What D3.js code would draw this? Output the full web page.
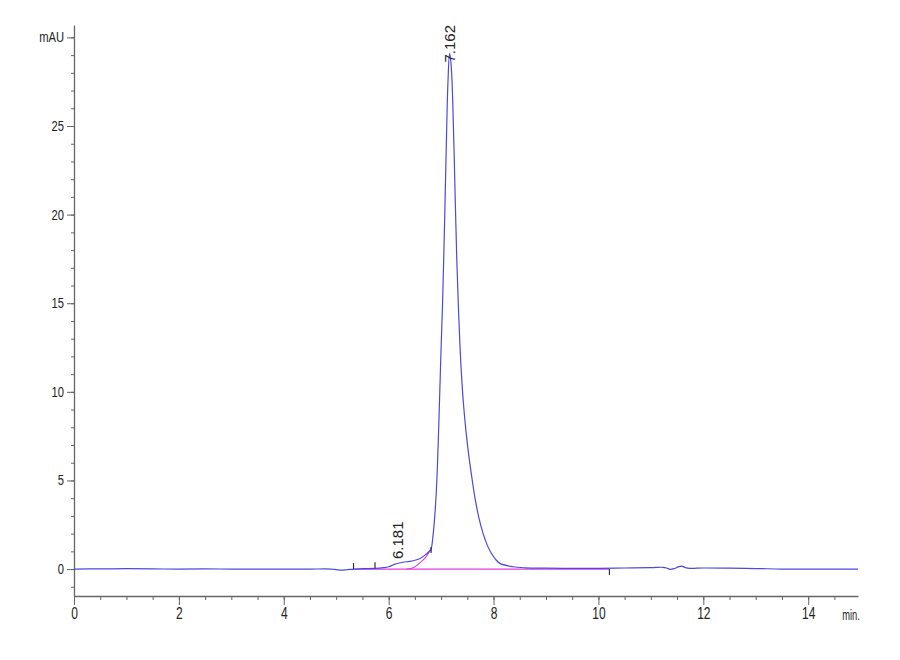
<!DOCTYPE html>
<html>
<head>
<meta charset="utf-8">
<script src="https://cdn.jsdelivr.net/npm/d3@7"></script>
<style>
  body { margin: 0; background: #fff; }
  .axis text { font-family: "Liberation Sans", Arial, sans-serif; fill: #222;
      transform-box: fill-box; transform-origin: center; }
  .axis path, .axis line { stroke: #666; }
  .x-axis text { font-size: 16px; transform: scaleX(0.75); }
  .y-axis text { font-size: 14px; transform: scaleX(0.8); }
  .x-axis text.unit { font-size: 15px; transform: scaleX(0.62); }
  .peak-label { font-family: "Liberation Sans", Arial, sans-serif; font-size: 15px; fill: #222; }
</style>
</head>
<body>
<svg id="chart" width="900" height="660"></svg>
<script>
// detector trace, time in min / signal in mAU
var traceTime = [0, 0.5, 1.0, 1.5, 2.0, 2.5, 3.0, 3.5, 4.0, 4.5, 4.9, 5.0, 5.1, 5.2, 5.33, 5.5, 5.74,
    5.9, 6.0, 6.1, 6.2, 6.3, 6.4, 6.5, 6.6, 6.7, 6.78, 6.81, 6.85, 6.9, 6.93, 6.96, 6.99, 7.03,
    7.07, 7.1, 7.13, 7.162, 7.19, 7.22, 7.27, 7.3, 7.33, 7.36, 7.39, 7.43, 7.474, 7.52, 7.58, 7.65,
    7.72, 7.8, 7.88, 7.96, 8.04, 8.12, 8.37, 8.6, 9.0, 9.5, 10.0, 10.5, 11.0, 11.23, 11.3, 11.37,
    11.45, 11.52, 11.59, 11.66, 11.75, 12.0, 12.5, 13.0, 13.5, 14.0, 14.5, 14.95];
var traceSignal = [0, 0.01, 0.02, 0.01, 0, 0.01, 0, 0, 0, 0, 0, -0.03, -0.06, -0.04, 0, 0.02, 0.04,
    0.08, 0.13, 0.25, 0.34, 0.4, 0.43, 0.5, 0.6, 0.8, 1.02, 1.15, 2.0, 3.9, 5.8, 8.5, 11.5, 15.2,
    20.0, 24.0, 27.4, 29.1, 28.5, 26.6, 20.8, 17.4, 14.8, 12.6, 10.9, 9.2, 7.8, 6.6, 5.3, 3.95,
    2.9, 2.01, 1.35, 0.88, 0.55, 0.32, 0.13, 0.07, 0.05, 0.04, 0.04, 0.06, 0.08, 0.1, 0.06, -0.02,
    0.03, 0.12, 0.17, 0.08, 0.04, 0.06, 0.05, 0.03, 0, 0, 0, 0];

// integration baseline and skim under the front shoulder
var baseTime = [5.33, 10.21];
var baseSignal = [0, 0];
var skimTime = [6.34, 6.47, 6.6, 6.7, 6.81];
var skimSignal = [0, 0.07, 0.36, 0.65, 1.15];

// integration event marks (dir 1 = up, -1 = down)
var eventTime = [5.33, 5.74, 6.81, 10.21];
var eventSignal = [0, 0.04, 0.9, 0];
var eventDir = [1, 1, 1, -1];

// peak labels
var peakTime = [6.181, 7.162];
var peakLabel = ["6.181", "7.162"];

var xTicks = [0, 2, 4, 6, 8, 10, 12, 14];
var yTicks = [0, 5, 10, 15, 20, 25];
var yUnitTick = 30;

var svg = d3.select("#chart");
var x = d3.scaleLinear().domain([0, 14.95]).range([74, 858]);
var y = d3.scaleLinear().domain([-1.52, 30.7]).range([596, 25]);

// x axis: minor ticks every 0.5 min, then majors
svg.append("g").attr("class", "axis")
    .attr("transform", "translate(0,596)")
    .call(d3.axisBottom(x).tickValues(d3.range(0, 14.96, 0.5)).tickSize(4).tickFormat(""))
    .call(function (g) { g.select(".domain").remove(); });

var gx = svg.append("g").attr("class", "axis x-axis")
    .attr("transform", "translate(0,596)")
    .call(d3.axisBottom(x).tickValues(xTicks).tickSize(9).tickPadding(3).tickSizeOuter(0));
gx.select(".domain").attr("stroke-width", 1.3);
gx.append("text")
    .attr("class", "unit")
    .attr("x", 851).attr("y", 13).attr("dy", "0.71em")
    .attr("text-anchor", "middle")
    .text("min.");

// y axis: minor ticks every 1 mAU, then majors
svg.append("g").attr("class", "axis")
    .attr("transform", "translate(74,0)")
    .call(d3.axisLeft(y).tickValues(d3.range(-1, 31, 1)).tickSize(3).tickFormat(""))
    .call(function (g) { g.select(".domain").remove(); });

var gy = svg.append("g").attr("class", "axis y-axis")
    .attr("transform", "translate(74,0)")
    .call(d3.axisLeft(y).tickValues(yTicks.concat([yUnitTick])).tickSize(7).tickPadding(3).tickSizeOuter(0)
        .tickFormat(function (d) { return d === yUnitTick ? "mAU" : d; }));
gy.select(".domain").attr("stroke-width", 1.3);
// keep right edges against the ticks after the horizontal squeeze
gy.selectAll(".tick text").style("transform-origin", "right center");

// lines
var line = d3.line()
    .x(function (d) { return x(d[0]); })
    .y(function (d) { return y(d[1]); })
    .curve(d3.curveCatmullRom.alpha(0.5));

svg.append("path")
    .datum(d3.zip(baseTime, baseSignal))
    .attr("fill", "none").attr("stroke", "#e23ce2").attr("stroke-width", 1.3)
    .attr("d", line);

svg.append("path")
    .datum(d3.zip(skimTime, skimSignal))
    .attr("fill", "none").attr("stroke", "#e23ce2").attr("stroke-width", 1.1)
    .attr("d", line);

svg.append("path")
    .datum(d3.zip(traceTime, traceSignal))
    .attr("fill", "none").attr("stroke", "#4a4ade").attr("stroke-width", 1.2)
    .attr("d", line);

// event marks
svg.selectAll(".event")
    .data(d3.zip(eventTime, eventSignal, eventDir))
    .enter().append("line")
    .attr("class", "event")
    .attr("x1", function (d) { return x(d[0]); })
    .attr("x2", function (d) { return x(d[0]); })
    .attr("y1", function (d) { return y(d[1]); })
    .attr("y2", function (d) { return y(d[1]) - d[2] * 6; })
    .attr("stroke", "#333").attr("stroke-width", 1.2);

// peak labels, rotated; pushed down when they would leave the plot top
var bisect = d3.bisector(function (d) { return d; }).left;
peakTime.forEach(function (t, i) {
    var k = bisect(traceTime, t);
    var apex = traceSignal[Math.min(k, traceSignal.length - 1)];
    var t0 = svg.append("text")
        .attr("class", "peak-label")
        .attr("dy", "0.35em")
        .text(peakLabel[i]);
    var len = t0.node().getComputedTextLength();
    var yStart = y(apex) - 4;
    if (yStart - len < y.range()[1]) yStart = y.range()[1] + len;
    t0.attr("transform", "translate(" + x(t) + "," + yStart + ") rotate(-90)");
});
</script>
</body>
</html>
